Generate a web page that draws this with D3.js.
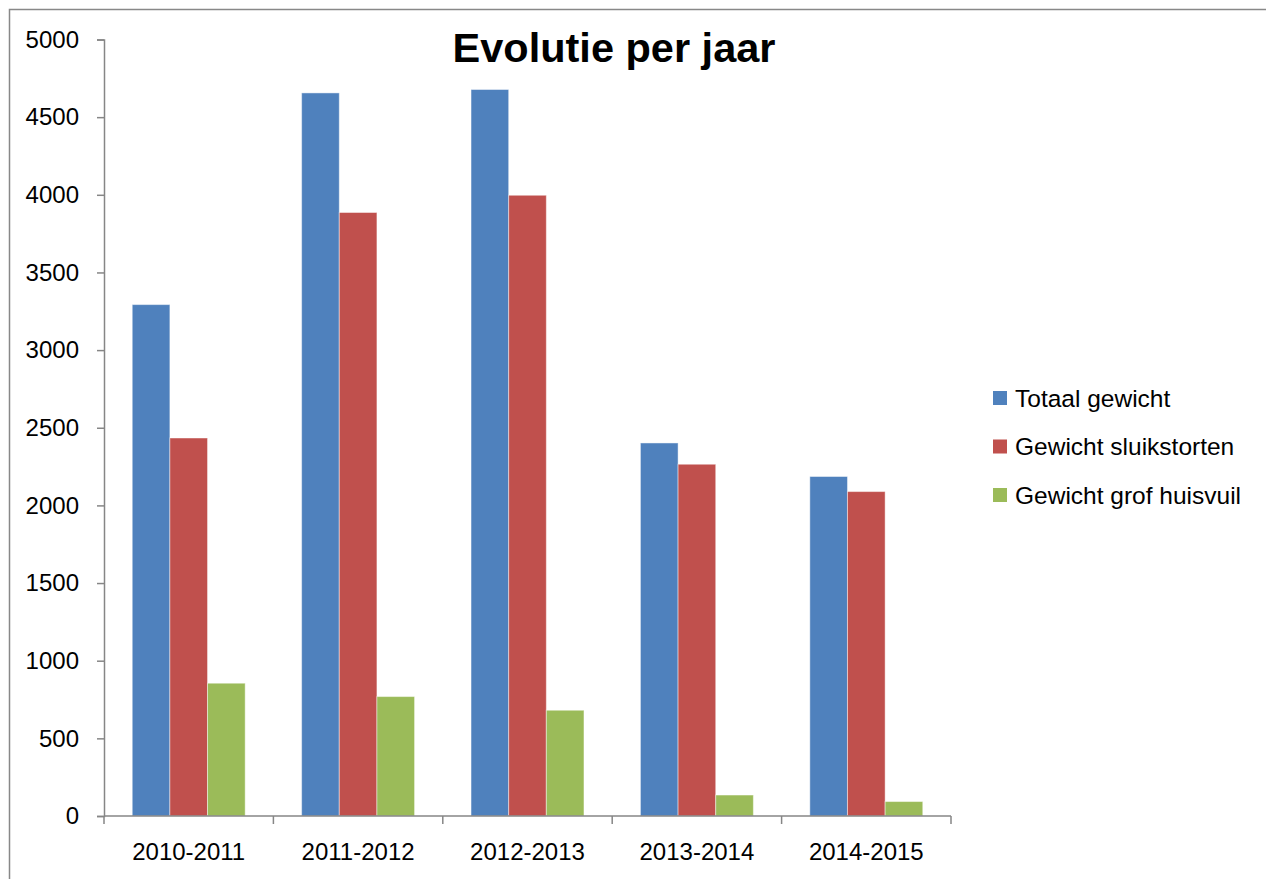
<!DOCTYPE html>
<html>
<head>
<meta charset="utf-8">
<script src="https://cdn.jsdelivr.net/npm/d3@7"></script>
<style>
  body { margin: 0; background: #fff; }
  text { font-family: "Liberation Sans", Arial, sans-serif; fill: #000; }
</style>
</head>
<body>
<script>
var categories = ["2010-2011", "2011-2012", "2012-2013", "2013-2014", "2014-2015"];
var seriesNames = ["Totaal gewicht", "Gewicht sluikstorten", "Gewicht grof huisvuil"];
var totaal = [3293, 4656, 4678, 2402, 2186];
var sluikstorten = [2434, 3886, 3997, 2265, 2089];
var grofHuisvuil = [855, 769, 681, 135, 93];
var yTicks = [0, 500, 1000, 1500, 2000, 2500, 3000, 3500, 4000, 4500, 5000];
var colors = ["#4F81BD", "#C0504D", "#9BBB59"];

var seriesValues = [totaal, sluikstorten, grofHuisvuil];
var data = categories.map(function (c, i) {
    return { cat: c, values: seriesValues.map(function (s, j) { return { name: seriesNames[j], v: s[i] }; }) };
});

var width = 1266, height = 879;
var plotLeft = 104, plotRight = 951, plotTop = 39.5, plotBottom = 816;

var svg = d3.select("body").append("svg")
    .attr("width", width)
    .attr("height", height);

// chart frame
svg.append("rect")
    .attr("x", 9.5).attr("y", 9.5)
    .attr("width", 1400).attr("height", 1000)
    .attr("fill", "none")
    .attr("stroke", "#888888")
    .attr("stroke-width", 1.5);

var x = d3.scaleBand()
    .domain(categories)
    .range([plotLeft, plotRight])
    .paddingInner(1 / 3)
    .paddingOuter(1 / 6);

var xInner = d3.scaleBand()
    .domain(seriesNames)
    .range([0, x.bandwidth()]);

var y = d3.scaleLinear()
    .domain([0, 5000])
    .range([plotBottom, plotTop]);

// bars
var groups = svg.append("g").selectAll("g")
    .data(data)
    .enter().append("g")
    .attr("transform", function (d) { return "translate(" + x(d.cat) + ",0)"; });

groups.selectAll("rect")
    .data(function (d) { return d.values; })
    .enter().append("rect")
    .attr("x", function (d) { return xInner(d.name); })
    .attr("y", function (d) { return y(d.v); })
    .attr("width", xInner.bandwidth())
    .attr("height", function (d) { return plotBottom - y(d.v); })
    .attr("fill", function (d, i) { return colors[i]; })
    .attr("stroke", "rgba(255,255,255,0.45)")
    .attr("stroke-width", 1);

// y axis
var yAxis = d3.axisLeft(y)
    .tickValues(yTicks)
    .tickSize(7)
    .tickPadding(18)
    .tickFormat(d3.format("d"));

var yg = svg.append("g")
    .attr("transform", "translate(" + plotLeft + ",0)")
    .call(yAxis);
yg.selectAll("path, line").attr("stroke", "#868686").attr("stroke-width", 1.5);
yg.selectAll("text").style("font-size", "24px");
yg.attr("font-family", null).attr("font-size", null);

// x axis line
svg.append("line")
    .attr("x1", plotLeft).attr("x2", plotRight)
    .attr("y1", plotBottom).attr("y2", plotBottom)
    .attr("stroke", "#868686").attr("stroke-width", 1.5);

// x ticks at category boundaries
var bounds = d3.range(categories.length + 1).map(function (i) { return plotLeft + i * x.step(); });
svg.append("g").selectAll("line")
    .data(bounds)
    .enter().append("line")
    .attr("x1", function (d) { return d; }).attr("x2", function (d) { return d; })
    .attr("y1", plotBottom).attr("y2", plotBottom + 8)
    .attr("stroke", "#868686").attr("stroke-width", 1.5);

svg.append("g").selectAll("text")
    .data(categories)
    .enter().append("text")
    .attr("x", function (d) { return x(d) + x.bandwidth() / 2; })
    .attr("y", 860)
    .attr("text-anchor", "middle")
    .style("font-size", "24px")
    .text(function (d) { return d; });

// title
svg.append("text")
    .attr("x", 614)
    .attr("y", 62)
    .attr("text-anchor", "middle")
    .style("font-size", "41.5px")
    .style("font-weight", "bold")
    .text("Evolutie per jaar");

// legend
var legend = svg.append("g").selectAll("g")
    .data(seriesNames)
    .enter().append("g")
    .attr("transform", function (d, i) { return "translate(993," + (398 + i * 48.5) + ")"; });

legend.append("rect")
    .attr("x", 0).attr("y", -7)
    .attr("width", 14).attr("height", 14)
    .attr("fill", function (d, i) { return colors[i]; });

legend.append("text")
    .attr("x", 22)
    .attr("y", 8.5)
    .style("font-size", "24.5px")
    .text(function (d) { return d; });
</script>
</body>
</html>
